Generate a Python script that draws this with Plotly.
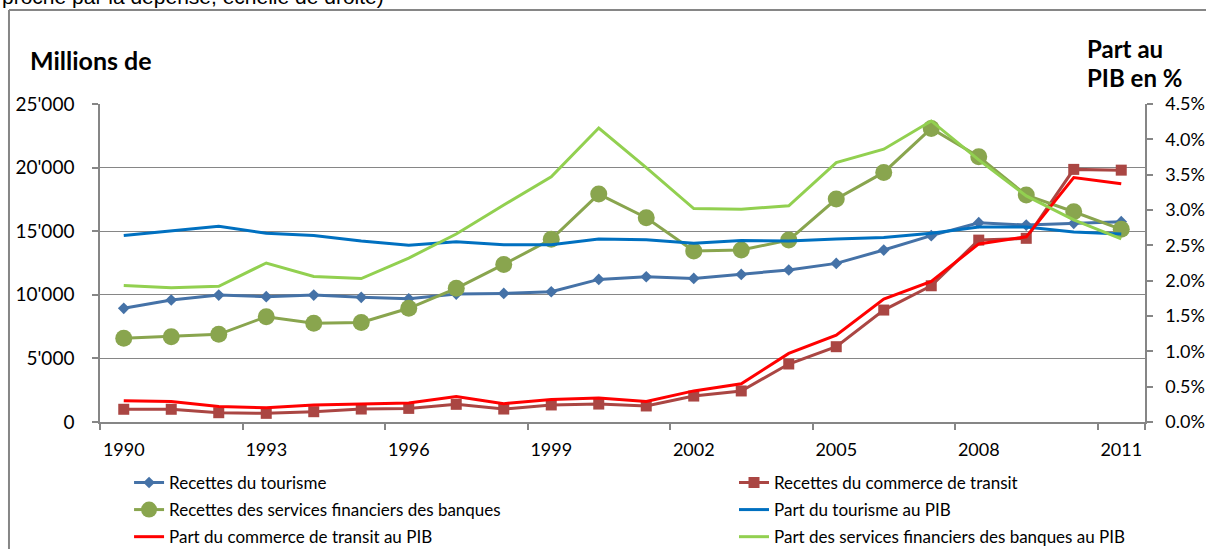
import plotly.graph_objects as go

years = list(range(1990, 2012))

rec_tourisme = [8940, 9590, 9980, 9850, 9980, 9800, 9690, 10060, 10110, 10240, 11210,
                11420, 11290, 11600, 11950, 12470, 13520, 14650, 15670, 15480, 15620, 15750]
rec_transit = [1000, 1000, 730, 680, 810, 1020, 1070, 1390, 1020, 1340, 1410,
               1260, 2040, 2440, 4560, 5920, 8800, 10710, 14300, 14440, 19860, 19800]
rec_banques = [6580, 6710, 6890, 8280, 7760, 7830, 8940, 10510, 12390, 14360, 17920,
               16060, 13440, 13520, 14300, 17530, 19620, 23080, 20850, 17840, 16530, 15150]
pib_tourisme = [2.64, 2.70, 2.77, 2.67, 2.64, 2.56, 2.50, 2.55, 2.51, 2.51, 2.59,
                2.58, 2.53, 2.57, 2.56, 2.59, 2.61, 2.67, 2.76, 2.76, 2.69, 2.66]
pib_transit = [0.30, 0.29, 0.22, 0.20, 0.24, 0.26, 0.27, 0.36, 0.26, 0.32, 0.34,
               0.29, 0.44, 0.54, 0.97, 1.23, 1.74, 1.99, 2.52, 2.62, 3.46, 3.37]
pib_banques = [1.93, 1.90, 1.92, 2.25, 2.06, 2.03, 2.32, 2.66, 3.07, 3.47, 4.16,
               3.60, 3.02, 3.01, 3.06, 3.67, 3.86, 4.26, 3.71, 3.20, 2.86, 2.59]

names = ["Recettes du tourisme", "Recettes du commerce de transit",
         "Recettes des services financiers des banques", "Part du tourisme au PIB",
         "Part du commerce de transit au PIB", "Part des services financiers des banques au PIB"]

left_ticks = [0, 5000, 10000, 15000, 20000, 25000]
left_ticktext = ["0", "5'000", "10'000", "15'000", "20'000", "25'000"]
right_ticks = [0, 0.5, 1.0, 1.5, 2.0, 2.5, 3.0, 3.5, 4.0, 4.5]
right_ticktext = ["0.0%", "0.5%", "1.0%", "1.5%", "2.0%", "2.5%", "3.0%", "3.5%", "4.0%", "4.5%"]
x_label_years = [1990, 1993, 1996, 1999, 2002, 2005, 2008, 2011]

FONT = "Lato"
GRID = "#868686"

fig = go.Figure()

fig.add_trace(go.Scatter(x=years, y=rec_tourisme, name=names[0], mode="lines+markers",
                         line=dict(color="#4572A7", width=3),
                         marker=dict(symbol="diamond", size=9, color="#4572A7"),
                         legend="legend", legendgroup="g1"))
fig.add_trace(go.Scatter(x=years, y=rec_transit, name=names[1], mode="lines+markers",
                         line=dict(color="#AA4643", width=3),
                         marker=dict(symbol="square", size=11, color="#AA4643"),
                         legend="legend2", legendgroup="g2"))
fig.add_trace(go.Scatter(x=years, y=rec_banques, name=names[2], mode="lines+markers",
                         line=dict(color="#89A54E", width=3),
                         marker=dict(symbol="circle", size=17, color="#89A54E"),
                         legend="legend", legendgroup="g3"))
fig.add_trace(go.Scatter(x=years, y=pib_tourisme, name=names[3], mode="lines", yaxis="y2",
                         line=dict(color="#0070C0", width=3),
                         legend="legend2", legendgroup="g4"))
fig.add_trace(go.Scatter(x=years, y=pib_transit, name=names[4], mode="lines", yaxis="y2",
                         line=dict(color="#FF0000", width=3),
                         legend="legend", legendgroup="g5"))
fig.add_trace(go.Scatter(x=years, y=pib_banques, name=names[5], mode="lines", yaxis="y2",
                         line=dict(color="#92D050", width=3),
                         legend="legend2", legendgroup="g6"))

fig.update_layout(
    width=1206, height=549,
    margin=dict(l=100, r=61, t=104, b=127, autoexpand=False),
    paper_bgcolor="white", plot_bgcolor="white",
    font=dict(family=FONT, size=18, color="black"),
    xaxis=dict(range=[1989.5, 2011.5], tickmode="array", tickvals=x_label_years,
               ticks="", showgrid=False, zeroline=False, showline=True, linecolor=GRID,
               linewidth=1.5, ticklabelstandoff=11, tickfont=dict(size=18),
               minor=dict(tickmode="array",
                          tickvals=[v - 0.5 for v in x_label_years] + [2011.5],
                          ticks="outside", ticklen=6, tickcolor=GRID, tickwidth=1.5,
                          showgrid=False)),
    yaxis=dict(range=[0, 25000], tickmode="array", tickvals=left_ticks, ticktext=left_ticktext,
               ticks="outside", ticklen=6, tickcolor=GRID, tickwidth=1.5,
               showgrid=True, gridcolor=GRID, gridwidth=1.3, zeroline=False,
               showline=True, linecolor=GRID, linewidth=1.5, ticklabelstandoff=14,
               tickfont=dict(size=19)),
    yaxis2=dict(range=[0, 4.5], overlaying="y", side="right", tickmode="array",
                tickvals=right_ticks, ticktext=right_ticktext,
                ticks="outside", ticklen=6, tickcolor=GRID, tickwidth=1.5,
                showgrid=False, zeroline=False, showline=True, linecolor=GRID,
                linewidth=1.5, ticklabelstandoff=9, tickfont=dict(size=18)),
    legend=dict(x=0.0278, y=-0.135, xanchor="left", yanchor="top", orientation="v",
                font=dict(family=FONT, size=17), tracegroupgap=2, bgcolor="rgba(0,0,0,0)"),
    legend2=dict(x=0.6067, y=-0.135, xanchor="left", yanchor="top", orientation="v",
                 font=dict(family=FONT, size=17), tracegroupgap=2, bgcolor="rgba(0,0,0,0)"),
    showlegend=True,
)

# Outer chart frame (partially visible)
fig.add_shape(type="line", xref="paper", yref="paper", x0=-0.0871, x1=-0.0871,
              y0=1.2956, y1=-0.5, line=dict(color="#868686", width=2))
fig.add_shape(type="line", xref="paper", yref="paper", x0=-0.0871, x1=1.2,
              y0=1.2956, y1=1.2956, line=dict(color="#868686", width=2))

fig.add_annotation(text="proche par la dépense, échelle de droite)", xref="paper", yref="paper",
                   x=-0.0957, y=1.2956, xanchor="left", yanchor="bottom", showarrow=False,
                   font=dict(family="Liberation Sans", size=21, color="black"))
fig.add_annotation(text="<b>Millions de</b>", xref="paper", yref="paper",
                   x=-0.0689, y=1.1384, xanchor="left", yanchor="middle", showarrow=False,
                   font=dict(family=FONT, size=25))
fig.add_annotation(text="<b>Part au</b>", xref="paper", yref="paper",
                   x=0.9425, y=1.176, xanchor="left", yanchor="middle", showarrow=False,
                   font=dict(family=FONT, size=24))
fig.add_annotation(text="<b>PIB en %</b>", xref="paper", yref="paper",
                   x=0.9425, y=1.0818, xanchor="left", yanchor="middle", showarrow=False,
                   font=dict(family=FONT, size=24))

fig.write_html("out.html", config={"displayModeBar": False},
               post_script="document.body.style.margin='0px';document.body.style.overflow='hidden';")
